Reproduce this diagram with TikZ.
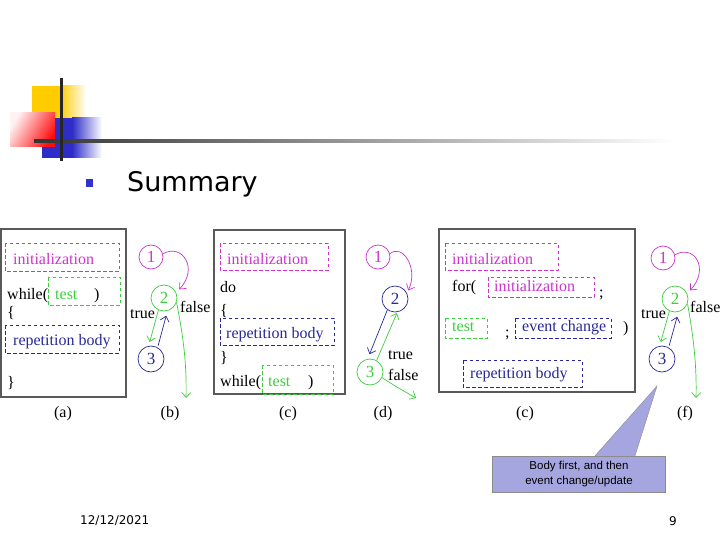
\documentclass[tikz,border=0pt]{standalone}
\usepackage{fontspec}
\setmainfont{Liberation Serif}
\newfontfamily\tahoma{DejaVu Sans}
\newfontfamily\arialf{Liberation Sans}
\usetikzlibrary{arrows.meta}
\definecolor{mag}{RGB}{204,51,204}
\definecolor{grn}{RGB}{60,205,60}
\definecolor{nvy}{RGB}{40,40,150}
\definecolor{callfill}{RGB}{165,165,224}
\definecolor{logoy}{RGB}{255,204,0}
\definecolor{logob}{RGB}{45,45,200}
\definecolor{bulletc}{RGB}{51,51,204}
\begin{document}
\begin{tikzpicture}[x=1pt,y=-1pt,
  panel/.style={draw=black!65,line width=1.3pt},
  dbox/.style={dash pattern=on 3.5pt off 2.5pt,line width=0.9pt},
  tx/.style={anchor=base west,inner sep=0pt,font=\fontsize{16}{18}\selectfont},
  lbl/.style={inner sep=0pt,font=\fontsize{16}{18}\selectfont},
  circ/.style={circle,minimum size=26pt,inner sep=0pt,line width=0.7pt,font=\fontsize{17}{18}\selectfont},
  tipA/.style={-{Straight Barb[length=5pt,width=9pt]},line width=0.7pt},
  magA/.style={tipA,draw=mag},
  grnA/.style={tipA,draw=grn},
  nvyA/.style={tipA,draw=nvy}]
\useasboundingbox (0,0) rectangle (720,540);
% ---- logo ----
\fill[logoy] (32,86) rectangle (60,122);
\shade[left color=logoy,right color=white] (60,86) rectangle (86,122);
\fill[logob] (42,118) rectangle (72,158);
\shade[left color=logob,right color=white] (72,118) rectangle (102,158);
\shade[left color=red!5,right color=red!95,shading angle=60] (10,113) rectangle (55,147);
\shade[left color=black!80,right color=white] (34,139.5) rectangle (675,142.5);
\fill[black!85] (59.5,78) rectangle (62.5,161);
% ---- title ----
\fill[bulletc] (86,179) rectangle (93,187);
\node[anchor=base west,inner sep=0pt,font=\tahoma\fontsize{27}{30}\selectfont] (title) at (127,192) {Summary};
% ---- panel (a) ----
\draw[panel] (1,229) rectangle (126,397);
\draw[dbox,draw=mag] (5,243) rectangle (119,271);
\node[tx,text=mag] (ainit) at (13,264) {initialization};
\node[tx] (awhile) at (7,299) {while(};
\draw[dbox,draw=grn] (48,277) rectangle (120,305);
\node[tx,text=grn] (atest) at (55,299) {test};
\node[tx] (aclose) at (94,299) {)};
\node[tx] (aopen) at (7,317) {\{};
\draw[dbox,draw=nvy] (5,325) rectangle (119,353);
\node[tx,text=nvy] (abody) at (13,345) {repetition body};
\node[tx] (aend) at (7,387) {\}};
% ---- diagram (b) ----
\node[circ,draw=mag,text=mag,minimum size=24pt] (b1) at (151,257) {1};
\node[circ,draw=grn,text=grn] (b2) at (164,298) {2};
\node[circ,draw=nvy,text=nvy] (b3) at (151,359) {3};
\coordinate (bout) at (186,398);
\node[tx] (btrue) at (130,318) {true};
\node[tx] (bfalse) at (180,312) {false};
\draw[magA] (b1.15) .. controls (182,243) and (199,268) .. ([xshift=5pt]b2.40);
\draw[grnA] (b2.-20) .. controls (182,330) and (187,360) .. (bout);
\draw[grnA,shorten >=4pt] (b2.245) -- (b3.100);
\draw[nvyA,shorten <=2pt,shorten >=5pt] (b3.60) -- (b2.285);
% ---- panel (c) ----
\draw[panel] (214,230) rectangle (345,394);
\draw[dbox,draw=mag] (220,243) rectangle (328,270);
\node[tx,text=mag] (cinit) at (227,264) {initialization};
\node[tx] (cdo) at (220,292) {do};
\node[tx] (copen) at (220,315) {\{};
\draw[dbox,draw=nvy] (220,318) rectangle (334,345);
\node[tx,text=nvy] (cbody) at (226,338) {repetition body};
\node[tx] (cend) at (220,362) {\}};
\node[tx] (cwhile) at (220,386) {while(};
\draw[dbox,draw=grn] (262,365) rectangle (333,394);
\node[tx,text=grn] (ctest) at (268,386) {test};
\node[tx] (cclose) at (308,386) {)};
% ---- diagram (d) ----
\node[circ,draw=mag,text=mag,minimum size=24pt] (d1) at (378,257) {1};
\node[circ,draw=nvy,text=nvy] (d2) at (395,299) {2};
\node[circ,draw=grn,text=grn] (d3) at (370,372) {3};
\coordinate (dout) at (416,398);
\node[tx] (dtrue) at (388,359) {true};
\node[tx] (dfalse) at (388,380) {false};
\draw[magA] (d1.15) .. controls (402,243) and (419,268) .. ([xshift=3pt]d2.40);
\draw[nvyA,shorten >=5pt] (d2.235) -- (d3.100);
\draw[grnA,shorten >=1pt] (d3.60) -- (d2.280);
\draw[grnA] (d3.-25) .. controls (395,386) .. (dout);
% ---- panel (e) ----
\draw[panel] (439,229) rectangle (635,392);
\draw[dbox,draw=mag] (445,243) rectangle (558,270);
\node[tx,text=mag] (einit) at (452,264) {initialization};
\node[tx] (efor) at (452,291) {for(};
\draw[dbox,draw=mag] (488,277) rectangle (594,297);
\node[tx,text=mag] (einit2) at (494,291) {initialization};
\node[tx] (esemi1) at (599,297) {;};
\draw[dbox,draw=grn] (445,318) rectangle (487,338);
\node[tx,text=grn] (etest) at (452,331) {test};
\node[tx] (esemi2) at (505,337) {;};
\draw[dbox,draw=nvy] (515,318) rectangle (611,338);
\node[tx,text=nvy] (eevent) at (522,331) {event change};
\node[tx] (eclose) at (623,332) {)};
\draw[dbox,draw=nvy] (463,360) rectangle (582,387);
\node[tx,text=nvy] (ebody) at (470,378) {repetition body};
% ---- diagram (f) ----
\node[circ,draw=mag,text=mag,minimum size=24pt] (f1) at (663,258) {1};
\node[circ,draw=grn,text=grn] (f2) at (675,299) {2};
\node[circ,draw=nvy,text=nvy] (f3) at (662,359) {3};
\coordinate (fout) at (696,398);
\node[tx] (ftrue) at (641,318) {true};
\node[tx] (ffalse) at (690,312) {false};
\draw[magA] (f1.15) .. controls (694,244) and (710,268) .. ([xshift=5pt]f2.40);
\draw[grnA] (f2.-20) .. controls (692,330) and (697,360) .. (fout);
\draw[grnA,shorten >=4pt] (f2.245) -- (f3.100);
\draw[nvyA,shorten <=2pt,shorten >=5pt] (f3.60) -- (f2.285);
% ---- sub-labels ----
\node[lbl] (la) at (63,414) {(a)};
\node[lbl] (lb) at (170,414) {(b)};
\node[lbl] (lc) at (288,414) {(c)};
\node[lbl] (ld) at (383,414) {(d)};
\node[lbl] (le) at (525,414) {(c)};
\node[lbl] (lf) at (685,414) {(f)};
% ---- callout ----
\node[draw=black!45,fill=callfill,minimum width=173pt,minimum height=36pt,inner sep=0pt,
  align=center,font=\arialf\fontsize{11.5}{15}\selectfont] (note) at (579,474)
  {Body first, and then\\event change/update};
\coordinate (tip) at (657,386);
\fill[callfill] ([xshift=16pt]note.north) -- (tip) -- ([xshift=56pt]note.north) -- cycle;
\draw[black!45] ([xshift=16pt]note.north) -- (tip) -- ([xshift=56pt]note.north);
% ---- footer ----
\node[anchor=west,inner sep=0pt,font=\tahoma\fontsize{12}{14}\selectfont] (date) at (80,521) {12/12/2021};
\node[anchor=west,inner sep=0pt,font=\tahoma\fontsize{12}{14}\selectfont] (page) at (669,521) {9};
\end{tikzpicture}
\end{document}
